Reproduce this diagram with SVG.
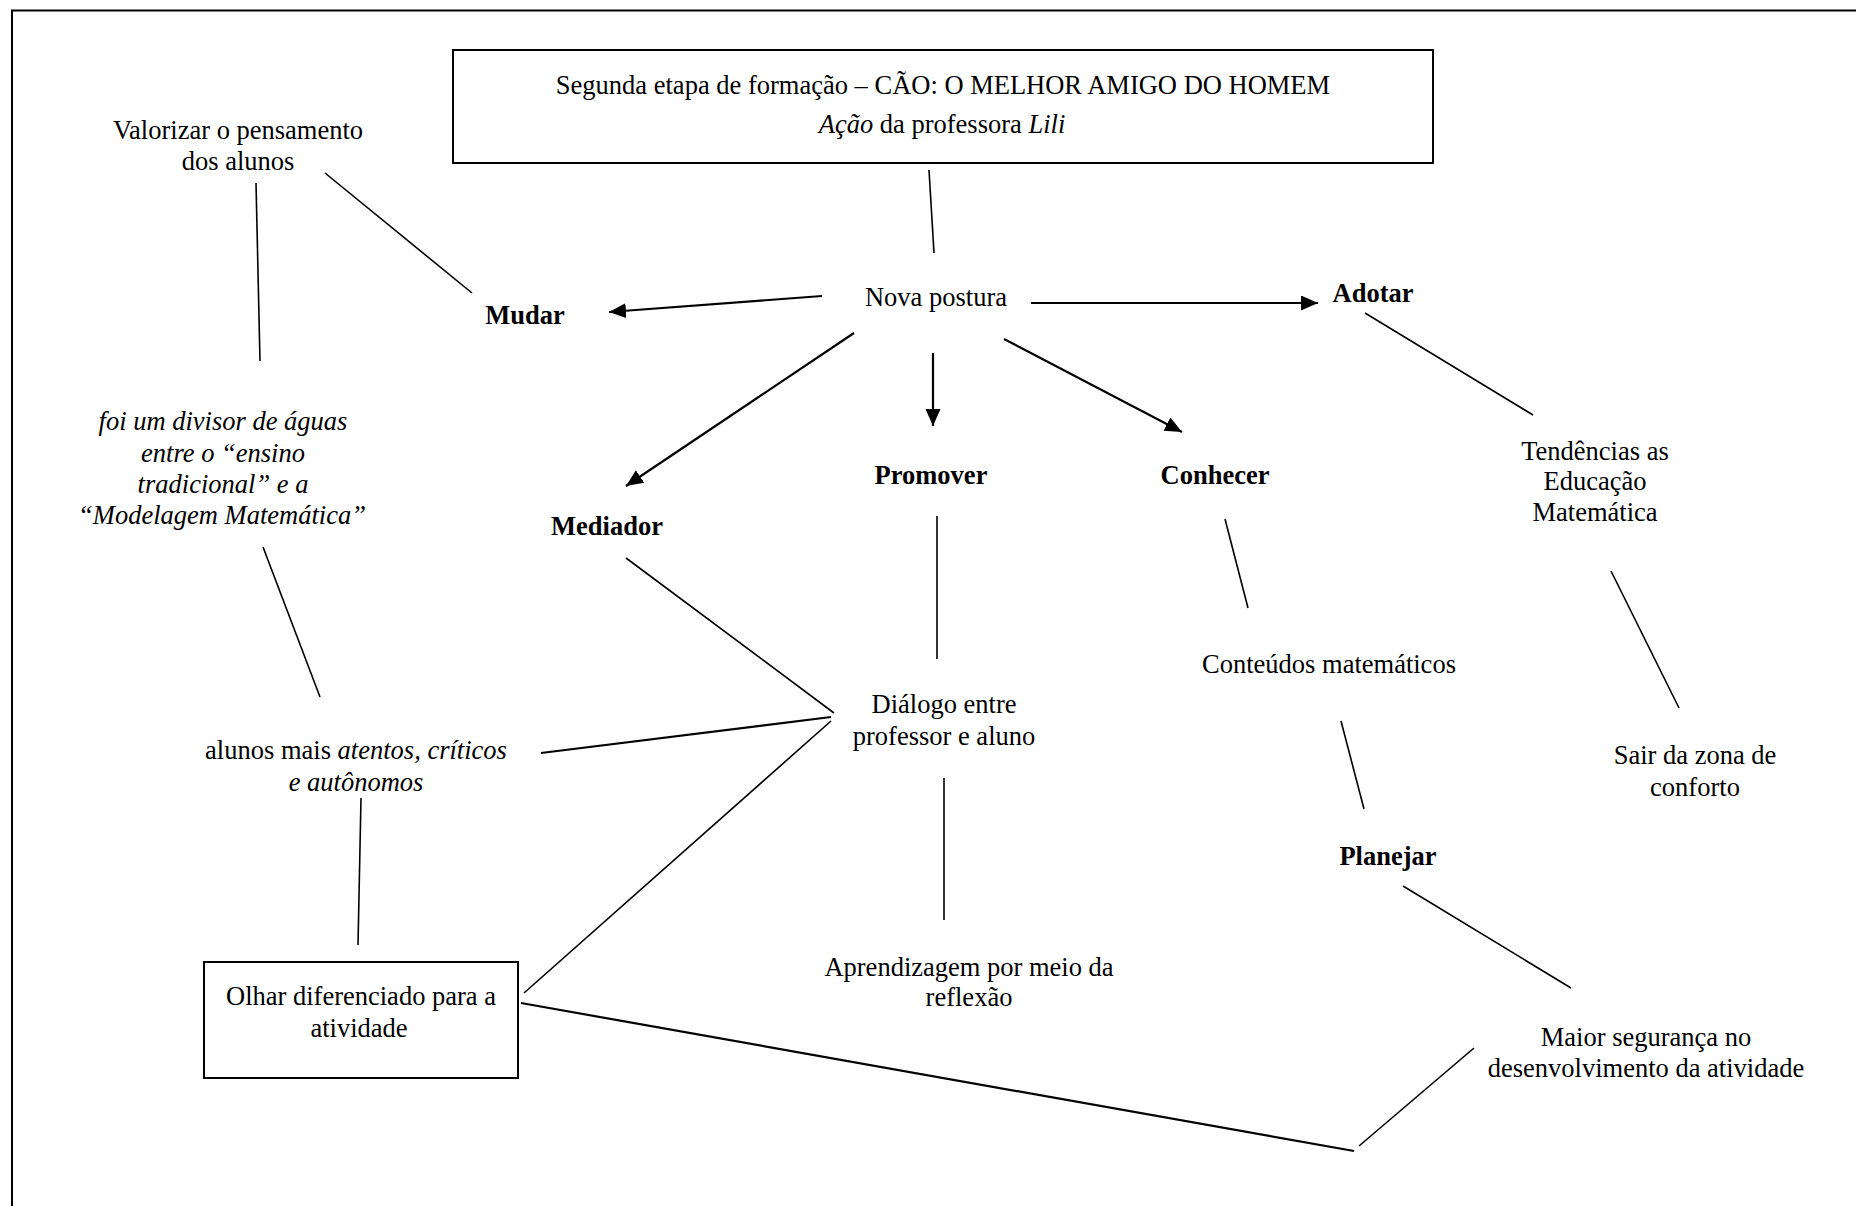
<svg xmlns="http://www.w3.org/2000/svg" width="1856" height="1206" viewBox="0 0 1856 1206">
  <style>
    text { font-family: "Liberation Serif", "Times New Roman", serif; font-size: 26.5px; fill: #000; text-anchor: middle; }
    .b { font-weight: bold; }
    .i { font-style: italic; }
    .box { fill: #fff; stroke: #000; stroke-width: 2; }
    .ln { stroke: #000; stroke-width: 1.6; fill: none; }
    .thk { stroke: #000; stroke-width: 2.2; fill: none; }
    .arr { stroke: #000; stroke-width: 2.2; fill: none; marker-end: url(#head); }
  </style>
  <defs>
    <marker id="head" markerUnits="userSpaceOnUse" markerWidth="18" markerHeight="16" refX="17" refY="7.5" orient="auto">
      <path d="M0,0 L17,7.5 L0,15 Z" fill="#000"/>
    </marker>
  </defs>

  <rect width="1856" height="1206" fill="#fff"/>
  <!-- page frame (top and left edges) -->
  <path d="M12,1206 V10.5 H1856" fill="none" stroke="#000" stroke-width="2"/>

  <!-- connectors -->
  <g id="connectors">
    <line class="ln" x1="929" y1="170" x2="934" y2="253"/>
    <line class="ln" x1="325" y1="173" x2="472" y2="293"/>
    <line class="ln" x1="256" y1="183" x2="260" y2="361"/>
    <line class="ln" x1="263" y1="547" x2="320" y2="697"/>
    <line class="ln" x1="626" y1="558" x2="834" y2="713"/>
    <line class="thk" x1="541" y1="753" x2="831" y2="717"/>
    <line class="ln" x1="524" y1="993" x2="831" y2="721"/>
    <line class="ln" x1="361" y1="798" x2="358" y2="945"/>
    <line class="ln" x1="937" y1="516" x2="937" y2="659"/>
    <line class="ln" x1="944" y1="778" x2="944" y2="920"/>
    <line class="ln" x1="1225" y1="519" x2="1248" y2="608"/>
    <line class="ln" x1="1341" y1="721" x2="1364" y2="809"/>
    <line class="ln" x1="1403" y1="886" x2="1571" y2="988"/>
    <line class="ln" x1="1365" y1="313" x2="1533" y2="415"/>
    <line class="ln" x1="1611" y1="571" x2="1679" y2="708"/>
    <line class="thk" x1="521" y1="1003" x2="1354" y2="1151"/>
    <line class="ln" x1="1359" y1="1146" x2="1474" y2="1048"/>
    <!-- arrows out of "Nova postura" -->
    <line class="arr" x1="822" y1="296" x2="609" y2="312"/>
    <line class="arr" x1="1031" y1="303" x2="1318" y2="303"/>
    <line class="arr" x1="854" y1="333" x2="626" y2="486"/>
    <line class="arr" x1="933" y1="353" x2="933" y2="426"/>
    <line class="arr" x1="1004" y1="339" x2="1182" y2="432"/>
  </g>

  <g id="titulo">
    <rect class="box" x="453" y="50" width="980" height="113"/>
    <text x="943" y="94">Segunda etapa de formação – CÃO: O MELHOR AMIGO DO HOMEM</text>
    <text x="942" y="133"><tspan class="i">Ação</tspan> da professora <tspan class="i">Lili</tspan></text>
  </g>

  <g id="valorizar">
    <text x="238" y="139">Valorizar o pensamento</text>
    <text x="238" y="170">dos alunos</text>
  </g>

  <g id="mudar"><text class="b" x="525" y="324">Mudar</text></g>
  <g id="nova-postura"><text x="936" y="306">Nova postura</text></g>
  <g id="adotar"><text class="b" x="1373" y="302">Adotar</text></g>
  <g id="mediador"><text class="b" x="607" y="535">Mediador</text></g>
  <g id="promover"><text class="b" x="931" y="484">Promover</text></g>
  <g id="conhecer"><text class="b" x="1215" y="484">Conhecer</text></g>

  <g id="tendencias">
    <text x="1595" y="460">Tendências as</text>
    <text x="1595" y="490">Educação</text>
    <text x="1595" y="521">Matemática</text>
  </g>

  <g id="divisor">
    <text class="i" x="223" y="430">foi um divisor de águas</text>
    <text class="i" x="223" y="462">entre o “ensino</text>
    <text class="i" x="223" y="493">tradicional” e a</text>
    <text class="i" x="222" y="524">“Modelagem Matemática”</text>
  </g>

  <g id="alunos">
    <text x="356" y="759">alunos mais <tspan class="i">atentos, críticos</tspan></text>
    <text class="i" x="356" y="791">e autônomos</text>
  </g>

  <g id="dialogo">
    <text x="944" y="713">Diálogo entre</text>
    <text x="944" y="745">professor e aluno</text>
  </g>

  <g id="conteudos"><text x="1329" y="673">Conteúdos matemáticos</text></g>

  <g id="sair">
    <text x="1695" y="764">Sair da zona de</text>
    <text x="1695" y="796">conforto</text>
  </g>

  <g id="planejar"><text class="b" x="1388" y="865">Planejar</text></g>

  <g id="olhar">
    <rect class="box" x="204" y="962" width="314" height="116"/>
    <text x="361" y="1005">Olhar diferenciado para a</text>
    <text x="359" y="1037">atividade</text>
  </g>

  <g id="aprendizagem">
    <text x="969" y="976">Aprendizagem por meio da</text>
    <text x="969" y="1006">reflexão</text>
  </g>

  <g id="maior-seguranca">
    <text x="1646" y="1046">Maior segurança no</text>
    <text x="1646" y="1077">desenvolvimento da atividade</text>
  </g>
</svg>
